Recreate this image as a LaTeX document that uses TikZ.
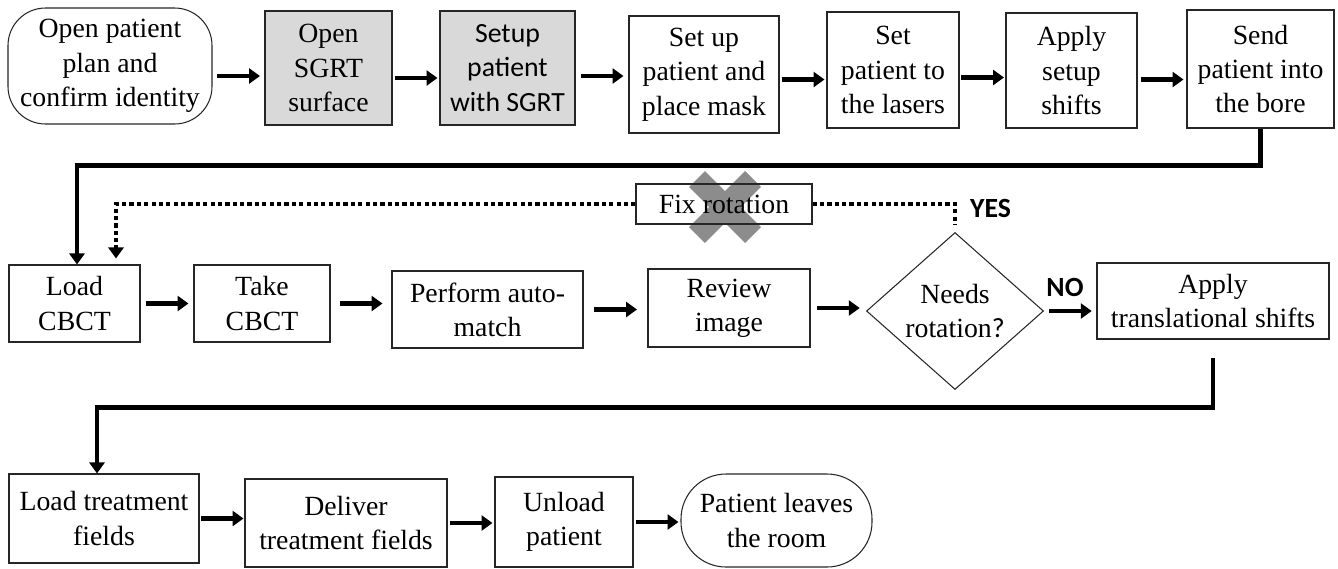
\documentclass[tikz,border=0pt]{standalone}
\usepackage{fontspec}
\setmainfont{Liberation Serif}
\newfontfamily\calfont{Carlito}
\newcommand\bodysize{\fontsize{15.8}{19.5}\selectfont}
\usepackage{tikz}
\usetikzlibrary{arrows.meta,calc,shapes.geometric}

\begin{document}
\begin{tikzpicture}[font=\bodysize,>={Triangle[length=0.22cm,width=0.3cm]},
  box/.style={draw=black!85,line width=0.6pt,align=center,inner sep=1pt},
  term/.style={box,rounded corners=0.9cm},
  grey/.style={box,fill=black!15},
  flow/.style={->,line width=2.6pt},
  dots/.style={line width=2.6pt,dash pattern=on 2.4pt off 1.8pt},
  tag/.style={font=\calfont\bfseries\bodysize}]
  \useasboundingbox (0,0) rectangle (26.76,-11.36);
  % first row
  \node[term,rounded corners=0.75cm,minimum width=4.08cm,minimum height=2.32cm] (start) at (2.20,-1.32) {Open patient\\plan and\\confirm identity};
  \node[grey,minimum width=2.54cm,minimum height=2.28cm] (sgrt) at (6.57,-1.36) {Open\\SGRT\\surface};
  \node[grey,font=\calfont\bodysize,minimum width=2.70cm,minimum height=2.28cm] (setup) at (10.15,-1.36) {Setup\\patient\\with SGRT};
  \node[box,minimum width=3.00cm,minimum height=2.34cm] (mask) at (14.08,-1.49) {Set up\\patient and\\place mask};
  \node[box,minimum width=2.64cm,minimum height=2.32cm] (lasers) at (17.86,-1.40) {Set\\patient to\\the lasers};
  \node[box,minimum width=2.62cm,minimum height=2.30cm] (shifts) at (21.43,-1.41) {Apply\\setup\\shifts};
  \node[box,minimum width=2.94cm,minimum height=2.36cm] (bore) at (25.21,-1.38) {Send\\patient into\\the bore};
  % second row
  \coordinate (cross) at (14.50,-4.14);
  \draw[line width=0.45cm,black!45] ($(cross)+(-0.56,-0.56)$) -- ($(cross)+(0.56,0.56)$)
    ($(cross)+(-0.56,0.56)$) -- ($(cross)+(0.56,-0.56)$);
  \node[box,minimum width=3.52cm,minimum height=0.80cm] (fix) at (14.48,-4.08) {Fix rotation};
  \node[box,minimum width=2.62cm,minimum height=1.54cm] (loadcbct) at (1.49,-6.07) {Load\\CBCT};
  \node[box,minimum width=2.72cm,minimum height=1.54cm] (take) at (5.24,-6.07) {Take\\CBCT};
  \node[box,minimum width=3.82cm,minimum height=1.54cm] (automatch) at (9.75,-6.19) {Perform auto-\\match};
  \node[box,minimum width=3.24cm,minimum height=1.56cm] (review) at (14.58,-6.16) {Review\\image};
  \node[box,diamond,aspect=1.13,inner sep=0pt,minimum width=3.54cm,minimum height=3.14cm] (needs) at (19.10,-6.22) {Needs\\rotation{\calfont ?}};
  \node[box,minimum width=4.64cm,minimum height=1.52cm] (translate) at (24.26,-6.02) {Apply\\translational shifts};
  \node[tag,anchor=west] (yes) at (19.28,-4.16) {YES};
  \node[tag] (no) at (21.30,-5.74) {NO};
  % third row
  \node[box,minimum width=3.80cm,minimum height=1.78cm] (loadfields) at (2.08,-10.37) {Load treatment\\fields};
  \node[box,minimum width=4.04cm,minimum height=1.76cm] (deliver) at (6.92,-10.46) {Deliver\\treatment fields};
  \node[box,minimum width=2.76cm,minimum height=1.80cm] (unload) at (11.28,-10.44) {Unload\\patient};
  \node[term,minimum width=3.82cm,minimum height=1.86cm] (leaves) at (15.53,-10.41) {Patient leaves\\the room};

  \foreach \a/\b/\dy in {start/sgrt/-.2,sgrt/setup/-.2,setup/mask/-.16,mask/lasers/-.1,lasers/shifts/-.15,shifts/bore/-.18,
      loadcbct/take/0,take/automatch/0,automatch/review/0,review/needs/0,needs/translate/0,
      loadfields/deliver/0,deliver/unload/0,unload/leaves/0}{
    \draw[flow] ($(\a.east)!.5!(\a.east -| \b.west)+(-0.43,\dy)$) -- ++(0.86,0);
  }
  \draw[flow] (bore.south) -- ++(0,-0.74) -| ([xshift=0.05cm]loadcbct.north);
  \draw[flow] ([yshift=-0.36cm]translate.south) -- ++(0,-1.0) -| ([xshift=-0.14cm]loadfields.north);
  \draw[dots,->,shorten >=0.12cm] (fix.west) -| ([xshift=0.83cm]loadcbct.north);
  \draw[dots,shorten >=0.14cm] (fix.east) -| (needs.north);
\end{tikzpicture}
\end{document}
